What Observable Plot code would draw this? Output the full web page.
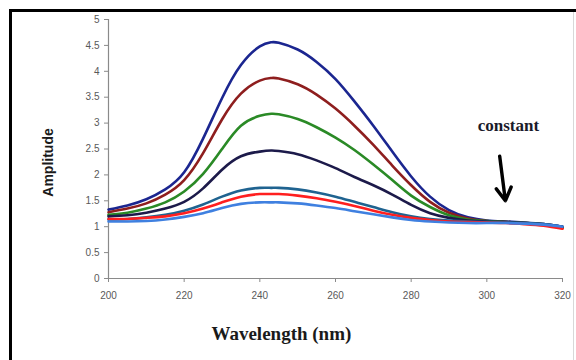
<!DOCTYPE html>
<html>
<head>
<meta charset="utf-8">
<script src="https://cdn.jsdelivr.net/npm/d3@7"></script>
<script src="https://cdn.jsdelivr.net/npm/@observablehq/plot@0.6"></script>
<style>
  html, body { margin: 0; padding: 0; background: #fff; }
  #wrap { position: relative; width: 576px; height: 360px; overflow: hidden; }
  #border { position: absolute; left: 9px; top: 9px; width: 620px; height: 420px; border: 3px solid #000; box-sizing: border-box; }
  #edge { position: absolute; left: 573px; top: 12px; width: 1px; height: 360px; background: #d8d8d8; }
  #chart { position: absolute; left: 0; top: 0; }
</style>
</head>
<body>
<div id="wrap"><div id="border"></div><div id="edge"></div><div id="chart"></div></div>
<script>
const wavelength = [200,205,210,215,220,225,230,235,240,243,245,250,255,260,265,270,275,280,285,290,295,300,305,310,315,320];

const s1 = [1.33,1.41,1.53,1.72,2.05,2.70,3.48,4.12,4.48,4.56,4.55,4.42,4.18,3.85,3.42,2.95,2.45,1.97,1.58,1.32,1.18,1.12,1.10,1.08,1.05,1.00];
const s2 = [1.28,1.35,1.45,1.62,1.90,2.42,3.07,3.57,3.82,3.87,3.86,3.75,3.55,3.28,2.95,2.58,2.18,1.80,1.48,1.27,1.16,1.11,1.09,1.07,1.04,0.97];
const s3 = [1.23,1.27,1.35,1.47,1.68,2.02,2.50,2.95,3.14,3.18,3.17,3.08,2.92,2.72,2.48,2.20,1.90,1.60,1.38,1.22,1.14,1.11,1.09,1.07,1.04,0.98];
const s4 = [1.20,1.22,1.27,1.35,1.48,1.74,2.10,2.36,2.45,2.47,2.46,2.40,2.28,2.13,1.96,1.80,1.62,1.42,1.26,1.17,1.12,1.10,1.09,1.07,1.05,1.00];
const s5 = [1.14,1.15,1.18,1.23,1.31,1.43,1.58,1.70,1.75,1.75,1.75,1.72,1.66,1.58,1.48,1.38,1.28,1.20,1.15,1.12,1.10,1.09,1.08,1.07,1.05,1.00];
const s6 = [1.15,1.15,1.17,1.20,1.26,1.35,1.47,1.58,1.63,1.63,1.63,1.60,1.55,1.48,1.40,1.31,1.23,1.17,1.13,1.10,1.09,1.08,1.07,1.05,1.02,0.96];
const s7 = [1.10,1.10,1.11,1.14,1.19,1.26,1.36,1.44,1.47,1.47,1.47,1.45,1.41,1.36,1.30,1.24,1.18,1.13,1.10,1.08,1.07,1.07,1.07,1.06,1.04,1.00];

const seriesNames = ["s1","s2","s3","s4","s5","s6","s7"];
const seriesValues = [s1,s2,s3,s4,s5,s6,s7];
const seriesColors = ["#1b2690","#8e1e1e","#2a8a26","#1c1a4a","#1f6390","#ff1f1f","#3f80e0"];

const xTicks = [200,220,240,260,280,300,320];
const yTicks = [0,0.5,1,1.5,2,2.5,3,3.5,4,4.5,5];
const yTickLabels = ["0","0.5","1","1.5","2","2.5","3","3.5","4","4.5","5"];

const xTitle = ["Wavelength (nm)"];
const xTitlePos = [245.7, -1.07];
const yTitle = ["Amplitude"];
const yTitlePos = [184.2, 2.24];
const noteText = ["constant"];
const notePos = [305.7, 2.95];
const arrowFrom = [303.4, 2.36];
const arrowTo = [304.9, 1.50];

const rows = [];
seriesNames.forEach((name, i) => {
  wavelength.forEach((w, j) => rows.push({series: name, x: w, y: seriesValues[i][j]}));
});

const serif = "Liberation Serif, Times New Roman, serif";

const plot = Plot.plot({
  width: 576,
  height: 360,
  marginLeft: 108,
  marginRight: 14,
  marginTop: 19,
  marginBottom: 82,
  style: {background: "transparent", fontFamily: "Liberation Sans, Arial, sans-serif"},
  x: {domain: [200, 320]},
  y: {domain: [0, 5]},
  color: {domain: seriesNames, range: seriesColors},
  marks: [
    Plot.axisY({ticks: yTicks, tickFormat: d => yTickLabels[yTicks.indexOf(d)], tickSize: 4, tickPadding: 5, fontSize: 10, color: "#595959", stroke: "#8a8a8a", label: null}),
    Plot.axisX({ticks: xTicks, tickFormat: d => String(d), tickSize: 4, tickPadding: 9, fontSize: 10, color: "#595959", stroke: "#8a8a8a", label: null}),
    Plot.ruleX([200], {stroke: "#8a8a8a", strokeWidth: 1.2}),
    Plot.ruleY([0], {stroke: "#8a8a8a", strokeWidth: 1.2}),
    Plot.line(rows, {x: "x", y: "y", z: "series", stroke: "series", strokeWidth: 2.6, curve: "natural"}),
    Plot.text(noteText, {x: () => notePos[0], y: () => notePos[1], text: d => d, fontFamily: serif, fontWeight: "bold", fontSize: 17, fill: "#1a1a2a"}),
    Plot.arrow([0], {x1: () => arrowFrom[0], y1: () => arrowFrom[1], x2: () => arrowTo[0], y2: () => arrowTo[1], stroke: "#000", strokeWidth: 3.4, headLength: 14, bend: 0}),
    Plot.text(xTitle, {x: () => xTitlePos[0], y: () => xTitlePos[1], text: d => d, fontFamily: serif, fontWeight: "bold", fontSize: 19, fill: "#1a1a1a"}),
    Plot.text(yTitle, {x: () => yTitlePos[0], y: () => yTitlePos[1], rotate: -90, text: d => d, fontFamily: "Liberation Sans Narrow, Liberation Sans, Arial, sans-serif", fontWeight: "bold", fontSize: 14, fill: "#1a1a1a"})
  ]
});
document.getElementById("chart").appendChild(plot);
</script>
</body>
</html>
